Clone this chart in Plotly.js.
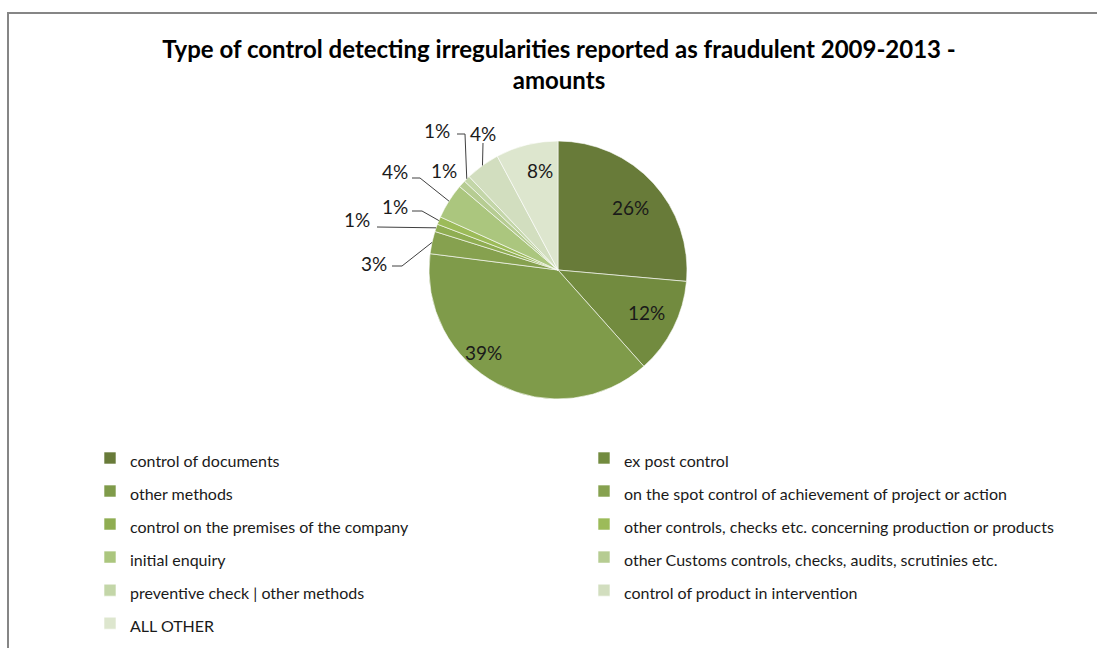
<!DOCTYPE html>
<html>
<head>
<meta charset="utf-8">
<script src="https://cdn.plot.ly/plotly-3.0.1.min.js"></script>
<style>html,body{margin:0;padding:0;background:#fff;}#chart{width:1097px;height:648px;}</style>
</head>
<body>
<div id="chart"></div>
<script>
const categories = [
  "control of documents",
  "ex post control",
  "other methods",
  "on the spot control of achievement of project or action",
  "control on the premises of the company",
  "other controls, checks etc. concerning production or products",
  "initial enquiry",
  "other Customs controls, checks, audits, scrutinies etc.",
  "preventive check | other methods",
  "control of product in intervention",
  "ALL OTHER"
];
const shares = [26.4, 12.0, 38.6, 2.8, 0.95, 0.97, 4.45, 0.9, 0.8, 4.3, 7.8];
const sliceColors = ["#687B39", "#728B3F", "#7F9B4A", "#86A14F", "#8FAD52", "#9CBB59", "#ABC67E", "#B6CC92", "#C3D6A8", "#D2DEBF", "#DDE6CE"];

const W = 1097, H = 648, MB = 20;
const PH = H - MB;               // plot-area height (paper units map onto it)
const CX = 558, CY = 270, R = 129;
const px = x => x / W;
const py = y => 1 - y / PH;

const total = shares.reduce((a, b) => a + b, 0);
const pctText = shares.map(v => Math.round(v / total * 100) + '%');

// edge point at mid-angle of slice i (clockwise from 12 o'clock)
function edgePoint(i) {
  let cum = 0;
  for (let k = 0; k < i; k++) cum += shares[k];
  const mid = (cum + shares[i] / 2) / total * 2 * Math.PI;
  return [CX + R * Math.sin(mid), CY - R * Math.cos(mid)];
}

// data labels: [slice index, label center, leader start, elbow]
const labelPlacement = [
  [0, [630, 207], null, null],
  [1, [646, 312], null, null],
  [2, [483, 352], null, null],
  [3, [374, 263], [392, 266], [402, 266]],
  [4, [357, 220], [377, 227], null],
  [5, [395, 206], [412, 211], [422, 211]],
  [6, [395, 171], [412, 178], [420, 178]],
  [7, [444, 170], null, null],
  [8, [437, 130], [457, 134], [465, 134]],
  [9, [483, 133], [483, 143], null],
  [10, [540, 170], null, null]
];

const annotations = [];
const shapes = [
  {type: 'line', xref: 'paper', yref: 'paper', x0: px(7), x1: 1, y0: py(13), y1: py(13), line: {color: '#868686', width: 2}},
  {type: 'line', xref: 'paper', yref: 'paper', x0: px(8), x1: px(8), y0: py(13), y1: py(H), line: {color: '#868686', width: 2}}
];
labelPlacement.forEach(([i, lab, start, elbow]) => {
  annotations.push({
    xref: 'paper', yref: 'paper', x: px(lab[0]), y: py(lab[1]),
    xanchor: 'center', yanchor: 'middle', showarrow: false,
    text: pctText[i], font: {family: 'Lato, sans-serif', size: 19, color: '#1a1a1a'}
  });
  if (start) {
    const e = edgePoint(i);
    const pts = [start].concat(elbow ? [elbow] : []).concat([e]);
    const path = pts.map((p, k) => (k ? 'L' : 'M') + px(p[0]) + ',' + py(p[1])).join(' ');
    shapes.push({type: 'path', xref: 'paper', yref: 'paper', path: path, line: {color: '#404040', width: 1}});
  }
});

const legendLabels = categories.map(c => '<span style="font-size:16px">' + c + '</span>');

const data = [{
  type: 'pie',
  labels: legendLabels,
  values: shares,
  sort: false,
  direction: 'clockwise',
  rotation: 0,
  marker: {colors: sliceColors, line: {color: '#ffffff', width: 0.6}},
  textinfo: 'none',
  hoverinfo: 'label+percent',
  domain: {x: [px(CX - R), px(CX + R)], y: [py(CY + R), py(CY - R)]}
}];

const layout = {
  width: W, height: H,
  margin: {l: 0, r: 0, t: 0, b: MB},
  paper_bgcolor: '#ffffff',
  font: {family: 'Lato, sans-serif', color: '#1a1a1a'},
  title: {
    text: 'Type of control detecting irregularities reported as fraudulent 2009-2013 -<br>amounts',
    font: {family: 'Lato, sans-serif', size: 24, color: '#000000', weight: 'bold'},
    x: 559 / W, xanchor: 'center', xref: 'paper',
    y: 1 - 58 / H, yref: 'container', yanchor: 'top'
  },
  showlegend: true,
  legend: {
    orientation: 'h',
    x: px(90), xanchor: 'left',
    y: py(436.5), yanchor: 'top',
    entrywidth: 449, entrywidthmode: 'pixels',
    font: {family: 'Lato, sans-serif', size: 23.1, color: '#1a1a1a'},
    traceorder: 'normal',
    bgcolor: 'rgba(0,0,0,0)'
  },
  annotations: annotations,
  shapes: shapes
};

Plotly.newPlot('chart', data, layout, {displayModeBar: false, staticPlot: true});
</script>
</body>
</html>
